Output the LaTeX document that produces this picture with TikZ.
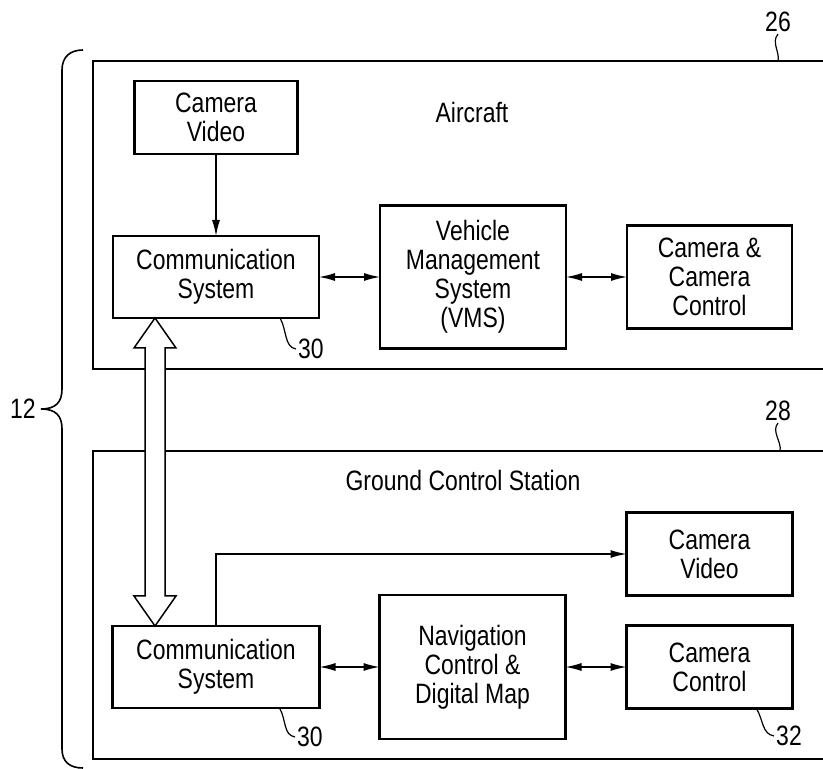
\documentclass[tikz,border=0pt]{standalone}
\usepackage{fontspec}
\setmainfont{Liberation Sans}[FakeStretch=0.82]
\usetikzlibrary{arrows.meta,positioning,calc}

\begin{document}
\begin{tikzpicture}[
      x=1pt, y=1pt,
      font=\fontsize{28}{29}\selectfont,
      box_st/.style={
         rectangle,
         draw=black,
         line width=2.2pt,
         align=center,
         inner sep=0pt,
         outer sep=0pt},
      frame_st/.style={
         line width=2pt},
      num_st/.style={
         inner sep=2pt},
      arrow_one/.style={
         line width=1.3pt,
         -{Latex[length=16pt,width=8pt]}},
      arrow_both/.style={
         line width=1.3pt,
         {Latex[length=16pt,width=8pt]}-{Latex[length=16pt,width=8pt]}},
      leader/.style={
         line width=1.2pt},
]
      \useasboundingbox (0,0) rectangle (823,769);

      % aircraft and ground station frames, open on the right
      \draw[frame_st] (823,708) -- (93,708) -- (93,400) -- (823,400);
      \draw[frame_st] (823,318) -- (93,318) -- (93,10) -- (823,10);

      % brace round both parts
      \draw[line width=1.6pt] (83,719) .. controls (70,719) and (62,712) .. (62,699)
         -- (62,380) .. controls (62,367) and (56,360) .. (41,360)
         .. controls (56,360) and (62,353) .. (62,340)
         -- (62,20) .. controls (62,7) and (70,1) .. (83,1);

      %aircraft
      \node[box_st,minimum width=206pt,minimum height=82pt] (commA) at (216,492) {Communication\\System};
      \node[box_st,minimum width=163pt,minimum height=73pt,above=82pt of commA] (camA) {Camera\\Video};
      \node[box_st,minimum width=186pt,minimum height=143pt,right=61pt of commA] (vms) {Vehicle\\Management\\System\\(VMS)};
      \node[box_st,minimum width=165pt,minimum height=103pt,right=61pt of vms] (camctl) {Camera \&\\Camera\\Control};
      \node (air) at (472,657) {Aircraft};

      %ground station
      \node[box_st,minimum width=207pt,minimum height=82pt] (commB) at (216,102) {Communication\\System};
      \node[box_st,minimum width=186pt,minimum height=144pt,right=60pt of commB] (nav) {Navigation\\Control \&\\Digital Map};
      \node[box_st,minimum width=166pt,minimum height=83pt,right=61pt of nav] (ctlB) {Camera\\Control};
      \node[box_st,minimum width=166pt,minimum height=83pt,above=30pt of ctlB] (camB) {Camera\\Video};
      \node (gcs) at (463,289) {Ground Control Station};

      \draw[arrow_one] (camA) -- (commA);
      \draw[arrow_both] (commA) -- (vms);
      \draw[arrow_both] (vms) -- (camctl);
      \draw[arrow_both] (commB) -- (nav);
      \draw[arrow_both] (nav) -- (ctlB);
      \draw[arrow_one] (commB.north) |- (camB.west);

      % radio link
      \coordinate (hiTip) at ([xshift=-61pt]commA.south);
      \coordinate (loTip) at ([xshift=-61pt]commB.north);
      \draw[line width=1.5pt,fill=white]
         (hiTip) -- ++(21,-30) -- ++(-11,0) -- ($(loTip)+(10,30)$) -- ++(11,0)
         -- (loTip) -- ++(-21,30) -- ++(11,0) -- ($(hiTip)+(-10,-30)$) -- ++(-11,0) -- cycle;

      %reference numerals
      \node[num_st] (n12) at (23,360) {12};
      \node[num_st] (n26) at (778,747) {26};
      \node[num_st] (n28) at (778,358) {28};
      \node[num_st] (n30a) at (311,420) {30};
      \node[num_st] (n30b) at (310,32) {30};
      \node[num_st] (n32) at (789,33) {32};
      \coordinate (acEdge) at (778,708);
      \coordinate (gsEdge) at (780,318);

      \draw[leader] (n26.south) .. controls +(-7,-8) and +(2,9) .. (acEdge);
      \draw[leader] (n28.south) .. controls +(-7,-8) and +(2,9) .. (gsEdge);
      \draw[leader] ([xshift=-39pt]commA.south east) .. controls +(7,-12) and +(-12,2) .. (n30a.west);
      \draw[leader] ([xshift=-40pt]commB.south east) .. controls +(7,-12) and +(-12,2) .. (n30b.west);
      \draw[leader] ([xshift=-36pt]ctlB.south east) .. controls +(7,-12) and +(-12,2) .. (n32.west);

\end{tikzpicture}
\end{document}
